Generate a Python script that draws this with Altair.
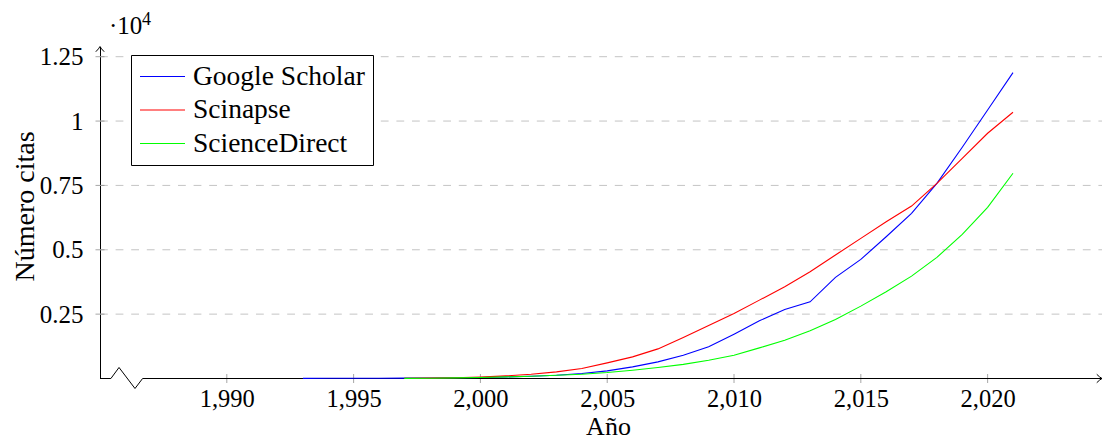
import altair as alt
import pandas as pd

FONT = "Liberation Serif"

# ---- data ----
series_names = ["Google Scholar", "Scinapse", "ScienceDirect"]
series_colors = ["#0000ff", "#ff0000", "#00ff00"]

gs_years = list(range(1993, 2022))
gs_values = [5, 8, 10, 12, 15, 20, 28, 40, 62, 89, 128, 194, 296, 451, 645, 900,
             1229, 1722, 2240, 2683, 2978, 3927, 4627, 5505, 6415, 7582, 8981,
             10432, 11882]

sc_years = list(range(1997, 2022))
sc_values = [5, 15, 30, 55, 101, 167, 257, 389, 607, 840, 1150, 1594, 2060, 2527,
             3044, 3562, 4145, 4794, 5443, 6089, 6699, 7582, 8554, 9526, 10342]

sd_years = list(range(1997, 2022))
sd_values = [5, 12, 25, 40, 62, 89, 128, 167, 233, 323, 428, 550, 711, 906, 1190,
             1489, 1851, 2294, 2811, 3367, 3977, 4705, 5599, 6649, 7971]

x_ticks = [1990, 1995, 2000, 2005, 2010, 2015, 2020]
y_ticks = [2500, 5000, 7500, 10000, 12500]

X_MIN, X_MAX = 1985, 2024.51
Y_MIN, Y_MAX = 0, 12896

# axis decoration (x-axis line with the "crunch" break), in data units
break_x = [1985, 1985.43, 1985.75, 1986.38, 1986.68, X_MAX]
break_y = [0, 0, 428, -389, 0, 0]

rows = []
for name, ys, vs in [(series_names[0], gs_years, gs_values),
                     (series_names[1], sc_years, sc_values),
                     (series_names[2], sd_years, sd_values)]:
    for y, v in zip(ys, vs):
        rows.append({"serie": name, "year": y, "citas": v})
df = pd.DataFrame(rows)

df_xt = pd.DataFrame({"t": x_ticks})
df_yt = pd.DataFrame({"v": y_ticks})
df_break = pd.DataFrame({"bx": break_x, "by": break_y, "ord": list(range(len(break_x)))})

xscale = alt.Scale(domain=[X_MIN, X_MAX], nice=False, zero=False)
yscale = alt.Scale(domain=[Y_MIN, Y_MAX], nice=False, zero=False)

xaxis = alt.Axis(values=x_ticks, format=",d", ticks=False, tickSize=0,
                 domain=False, grid=False,
                 labelFont=FONT, labelFontSize=24.5, labelColor="black",
                 labelPadding=27.8, labelBaseline="alphabetic",
                 title="Año", titleFont=FONT, titleFontSize=26,
                 titleFontWeight="normal", titleColor="black",
                 titleX=508, titleY=56.4, titleBaseline="alphabetic",
                 titleAlign="center")
yaxis = alt.Axis(values=y_ticks, labelExpr="'' + (datum.value / 10000)",
                 ticks=False, tickSize=0, grid=False,
                 domain=True, domainColor="black", domainWidth=1,
                 labelFont=FONT, labelFontSize=25, labelColor="black",
                 labelPadding=17, labelBaseline="middle",
                 title="Número citas", titleFont=FONT, titleFontSize=28,
                 titleFontWeight="normal", titleColor="black",
                 titleX=-67, titleY=159.5, titleBaseline="alphabetic",
                 titleAlign="center")

lines = alt.Chart(df).mark_line(strokeWidth=1.1).encode(
    x=alt.X("year:Q", scale=xscale, axis=xaxis),
    y=alt.Y("citas:Q", scale=yscale, axis=yaxis),
    color=alt.Color("serie:N",
                    scale=alt.Scale(domain=series_names, range=series_colors),
                    sort=series_names,
                    title=None,
                    legend=alt.Legend(orient="none", legendX=31, legendY=8.5,
                                      padding=8, strokeColor="black",
                                      fillColor="white",
                                      labelFont=FONT, labelFontSize=27.5,
                                      labelColor="black", labelOffset=7,
                                      symbolType="stroke", symbolSize=2025,
                                      symbolStrokeWidth=1.2, rowPadding=5.5,
                                      clipHeight=27, labelLimit=400)),
    order=alt.Order("year:Q"),
)

grid = alt.Chart(df_yt).mark_rule(strokeDash=[7.8, 7.8], color="#c4c4c4",
                                  strokeWidth=1).encode(
    y=alt.Y("v:Q", scale=yscale, axis=yaxis),
    x=alt.XDatum(X_MIN, scale=xscale, axis=xaxis),
    x2=alt.X2Datum(X_MAX),
)

yticks = alt.Chart(df_yt).mark_tick(orient="horizontal", size=9, thickness=1,
                                    color="#808080").encode(
    y=alt.Y("v:Q", scale=yscale, axis=yaxis),
    x=alt.XDatum(X_MIN, scale=xscale, axis=xaxis),
)

xticks = alt.Chart(df_xt).mark_tick(orient="vertical", size=9, thickness=1,
                                    color="#808080").encode(
    x=alt.X("t:Q", scale=xscale, axis=xaxis),
    y=alt.YDatum(0, scale=yscale, axis=yaxis),
)

xaxis_line = alt.Chart(df_break).mark_line(color="black", strokeWidth=1).encode(
    x=alt.X("bx:Q", scale=xscale, axis=xaxis),
    y=alt.Y("by:Q", scale=yscale, axis=yaxis),
    order=alt.Order("ord:Q"),
)

arrow_up = alt.Chart(df_yt.head(1)).mark_point(
    shape="M -0.8 1 Q -0.2 0.4 0 0 Q 0.2 0.4 0.8 1",
    size=110, filled=False, color="black", strokeWidth=1, opacity=1).encode(
    x=alt.XDatum(X_MIN, scale=xscale, axis=xaxis),
    y=alt.YDatum(Y_MAX, scale=yscale, axis=yaxis),
)

arrow_right = alt.Chart(df_yt.head(1)).mark_point(
    shape="M -1 -0.8 Q -0.4 -0.2 0 0 Q -0.4 0.2 -1 0.8",
    size=110, filled=False, color="black", strokeWidth=1, opacity=1).encode(
    x=alt.XDatum(X_MAX, scale=xscale, axis=xaxis),
    y=alt.YDatum(0, scale=yscale, axis=yaxis),
)

scale_txt = alt.Chart(df_yt.head(1)).mark_text(
    text="·10", font=FONT, fontSize=25, align="left", baseline="alphabetic",
    color="black", dx=9).encode(
    x=alt.XDatum(X_MIN, scale=xscale, axis=xaxis),
    y=alt.value(-12.2),
)
scale_exp = alt.Chart(df_yt.head(1)).mark_text(
    text="4", font=FONT, fontSize=18, align="left", baseline="alphabetic",
    color="black", dx=42).encode(
    x=alt.XDatum(X_MIN, scale=xscale, axis=xaxis),
    y=alt.value(-22),
)

chart = alt.layer(
    grid, yticks, xticks, xaxis_line, lines, arrow_up, arrow_right,
    scale_txt, scale_exp
).properties(
    width=1002, height=332,
    autosize=alt.AutoSizeParams(type="none"),
    padding={"left": 92, "top": 38.5, "right": 0, "bottom": 62},
).configure_view(strokeWidth=0)

chart.save("out.html", embed_options={"renderer": "svg", "actions": False})
